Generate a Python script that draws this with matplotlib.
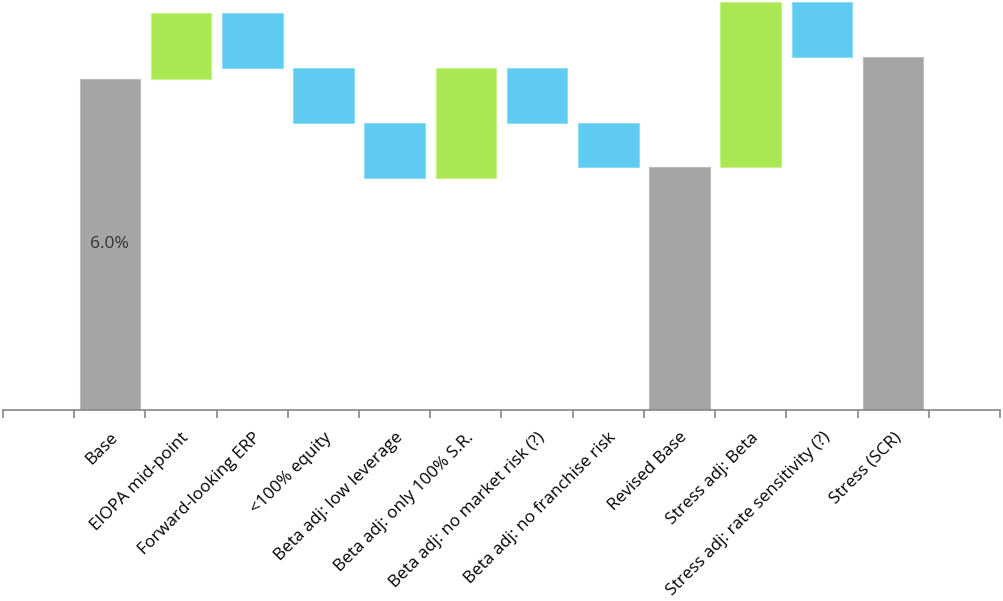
import matplotlib
matplotlib.use("Agg")
import matplotlib.pyplot as plt
import numpy as np

categories = ["Base", "EIOPA mid-point", "Forward-looking ERP", "<100% equity",
              "Beta adj: low leverage", "Beta adj: only 100% S.R.",
              "Beta adj: no market risk (?)", "Beta adj: no franchise risk",
              "Revised Base", "Stress adj: Beta", "Stress adj: rate sensitivity (?)",
              "Stress (SCR)"]
# kind: 'total' bars are absolute values, others are changes
kinds = ["total", "up", "down", "down", "down", "up", "down", "down",
         "total", "up", "down", "total"]
values = [6.0, 1.2, -1.0, -1.0, -1.0, 2.0, -1.0, -0.8, 4.4, 3.0, -1.0, 6.4]

colors = {"total": "#a5a5a5", "up": "#a9e853", "down": "#5fcbf1"}
edges = {"total": "#bdbdbd", "up": "#c5f08a", "down": "#8edbf6"}

bottoms, heights = [], []
level = 0.0
for k, v in zip(kinds, values):
    if k == "total":
        bottoms.append(0.0)
        heights.append(v)
        level = v
    else:
        bottoms.append(level)
        heights.append(v)
        level += v

plt.rcParams['font.family'] = ['Open Sans', 'DejaVu Sans']
fig = plt.figure(figsize=(10.04, 6.01), dpi=100)
ax = fig.add_axes([3/1004, (601-410)/601, 997/1004, 408.5/601])

x = np.arange(len(categories))
ax.bar(x, heights, bottom=bottoms, width=0.85,
       color=[colors[k] for k in kinds],
       edgecolor=[edges[k] for k in kinds], linewidth=0.8)

ax.text(0, values[0] / 2, f"{values[0]:.1f}%", ha="center", va="center",
        fontsize=12.5, color="#333333")

ax.set_xlim(-1.5, len(categories) + 0.5)
ax.set_ylim(0, 7.4)
for s in ["top", "right", "left"]:
    ax.spines[s].set_visible(False)
ax.spines["bottom"].set_color("#868686")
ax.spines["bottom"].set_linewidth(1.2)
ax.set_yticks([])

ax.set_xticks(np.arange(-1.5, len(categories) + 1.0, 1.0))
ax.set_xticklabels([])
ax.tick_params(axis="x", which="major", length=6, width=1.2, color="#868686")
ax.set_xticks(x, minor=True)
ax.set_xticklabels(categories, minor=True, rotation=45, ha="right", va="top",
                   rotation_mode="anchor", fontsize=12.3, color="#000000")
ax.tick_params(axis="x", which="minor", length=0, pad=14)

fig.savefig("out.png", dpi=100)
